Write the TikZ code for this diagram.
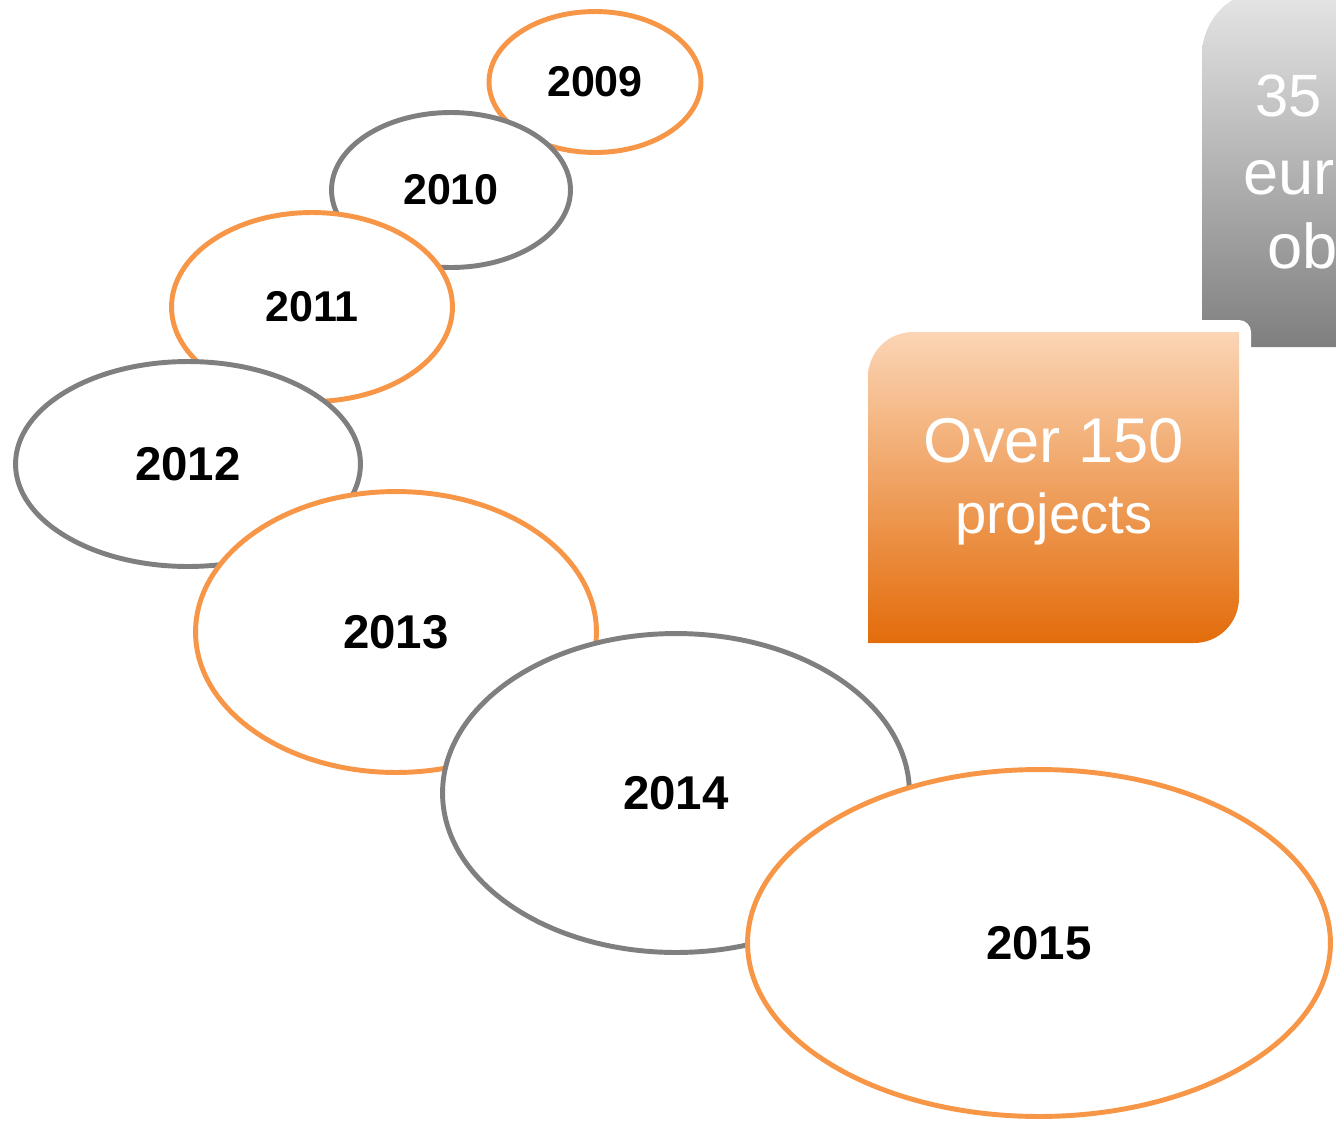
\documentclass[tikz,border=0pt]{standalone}
\usepackage{fontspec}
\setmainfont{Liberation Sans}
\usetikzlibrary{shapes.geometric}

\definecolor{ringorange}{HTML}{F79646}
\definecolor{ringgray}{HTML}{7F7F7F}
\definecolor{peach}{HTML}{FBD5B5}
\definecolor{salmon}{HTML}{F0A57D}
\definecolor{burnt}{HTML}{E36C0A}
\definecolor{lightgray}{HTML}{E6E6E6}
\definecolor{darkgray}{HTML}{7F7F7F}

\tikzset{
	yearring/.style={ellipse, draw, fill=white, line width=2.8pt, inner sep=0pt},
	orangering/.style={yearring, draw=ringorange},
	grayring/.style={yearring, draw=ringgray},
	smallyear/.style={font=\bfseries\fontsize{24.5}{28}\selectfont},
	bigyear/.style={font=\bfseries\fontsize{27}{30}\selectfont},
	boxtext/.style={text=white, inner sep=0pt}
}

\begin{document}
\begin{tikzpicture}[x=0.02cm,y=-0.02cm]
	\useasboundingbox (0,0) rectangle (1336,1123);

	% gray box, cut by the right edge
	\shade[top color=lightgray, bottom color=darkgray] (1202,347) -- (1202,55)
		arc[start angle=180, end angle=90, radius=1.3cm] -- (1400,-10) -- (1400,347) -- cycle;
	\node[boxtext, anchor=base west, font=\fontsize{34}{40}\selectfont] (n35) at (1255,116) {35};
	\node[boxtext, anchor=base west, font=\fontsize{36}{40}\selectfont] (eur) at (1243,194) {eur};
	\node[boxtext, anchor=base west, font=\fontsize{36}{40}\selectfont] (ob) at (1267,268) {ob};

	% orange box
	\draw[white, line width=0.48cm, line join=round] (868,643) -- (868,377)
		arc[start angle=180, end angle=90, radius=0.9cm] -- (1239,332) -- (1239,598)
		arc[start angle=0, end angle=-90, radius=0.9cm] -- cycle;
	\shade[top color=peach, middle color=salmon, bottom color=burnt] (868,643) -- (868,377)
		arc[start angle=180, end angle=90, radius=0.9cm] -- (1239,332) -- (1239,598)
		arc[start angle=0, end angle=-90, radius=0.9cm] -- cycle;
	\node[boxtext, anchor=base, font=\fontsize{36}{40}\selectfont] (over) at (1054,462) {Over 150};
	\node[boxtext, anchor=base, font=\fontsize{32}{36}\selectfont] (projects) at (1054,533) {projects};

	% years, each one over the one before
	\node[orangering, smallyear, minimum width=4.24cm, minimum height=2.82cm] (y2009) at (595,82) {2009};
	\node[grayring, smallyear, minimum width=4.78cm, minimum height=3.1cm] (y2010) at (451,190) {2010};
	\node[orangering, smallyear, minimum width=5.62cm, minimum height=3.78cm] (y2011) at (312,307) {2011};
	\node[grayring, bigyear, minimum width=6.9cm, minimum height=4.1cm] (y2012) at (188,464) {2012};
	\node[orangering, bigyear, minimum width=8.02cm, minimum height=5.62cm] (y2013) at (396,632) {2013};
	\node[grayring, bigyear, minimum width=9.34cm, minimum height=6.38cm] (y2014) at (676,793) {2014};
	\node[orangering, bigyear, minimum width=11.66cm, minimum height=6.94cm] (y2015) at (1039,943) {2015};
\end{tikzpicture}
\end{document}
